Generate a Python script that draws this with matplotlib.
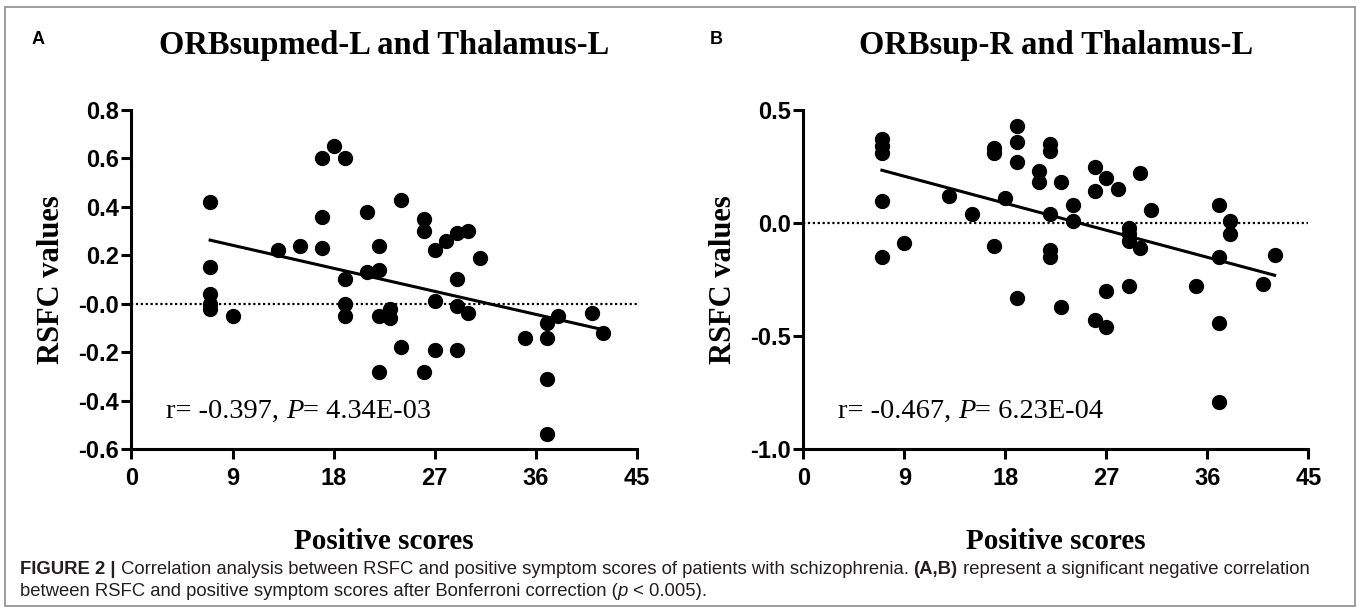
import numpy as np
import matplotlib
matplotlib.use("Agg")
import matplotlib.pyplot as plt
from matplotlib import font_manager
from matplotlib.offsetbox import TextArea, HPacker, AnchoredOffsetbox
from matplotlib.patches import Rectangle

# panel A: ORBsupmed-L and Thalamus-L
scores_a = [7, 7, 7, 7, 7, 9, 13, 15, 17, 17, 17, 18, 19, 19, 19, 19,
            21, 21, 22, 22, 22, 22, 23, 23, 24, 24, 26, 26, 26, 27, 27, 27,
            28, 29, 29, 29, 29, 30, 30, 31, 35, 37, 37, 37, 37, 38, 41, 42]
rsfc_a = [0.42, 0.15, 0.04, 0.00, -0.02, -0.05, 0.22, 0.24, 0.60, 0.36, 0.23,
          0.65, 0.60, 0.10, 0.00, -0.05, 0.38, 0.13, 0.24, 0.14, -0.05, -0.28,
          -0.02, -0.06, 0.43, -0.18, 0.35, 0.30, -0.28, 0.22, 0.01, -0.19,
          0.26, 0.29, 0.10, -0.01, -0.19, 0.30, -0.04, 0.19, -0.14, -0.08,
          -0.14, -0.31, -0.54, -0.05, -0.04, -0.12]

# panel B: ORBsup-R and Thalamus-L
scores_b = [7, 7, 7, 7, 7, 9, 13, 15, 17, 17, 17, 18, 19, 19, 19, 19, 21, 21,
            22, 22, 22, 22, 22, 23, 23, 24, 24, 26, 26, 26, 27, 27, 27, 28,
            29, 29, 29, 29, 30, 30, 31, 35, 37, 37, 37, 37, 38, 38, 41, 42]
rsfc_b = [0.37, 0.34, 0.31, 0.10, -0.15, -0.09, 0.12, 0.04, 0.33, 0.31, -0.10,
          0.11, 0.43, 0.36, 0.27, -0.33, 0.23, 0.18, 0.35, 0.32, 0.04, -0.12,
          -0.15, 0.18, -0.37, 0.08, 0.01, 0.25, 0.14, -0.43, 0.20, -0.30,
          -0.46, 0.15, -0.02, -0.05, -0.08, -0.28, 0.22, -0.11, 0.06, -0.28,
          0.08, -0.15, -0.44, -0.79, 0.01, -0.05, -0.27, -0.14]

titles = ["ORBsupmed-L and Thalamus-L", "ORBsup-R and Thalamus-L"]
panel_letters = ["A", "B"]
stats_r = ["-0.397", "-0.467"]
stats_p = ["4.34E-03", "6.23E-04"]
x_ticks = [0, 9, 18, 27, 36, 45]
y_ticks_a = [-0.6, -0.4, -0.2, 0.0, 0.2, 0.4, 0.6, 0.8]
y_labels_a = ["-0.6", "-0.4", "-0.2", "-0.0", "0.2", "0.4", "0.6", "0.8"]
y_ticks_b = [-1.0, -0.5, 0.0, 0.5]
y_labels_b = ["-1.0", "-0.5", "0.0", "0.5"]

SERIF = "Liberation Serif"
SANS = "Liberation Sans"
names = {f.name for f in font_manager.fontManager.ttflist}
NARROW = "Liberation Sans Narrow" if "Liberation Sans Narrow" in names else SANS


def draw_panel(ax, x, y, y_ticks, y_labels, title, r, p):
    x = np.array(x, dtype=float)
    y = np.array(y, dtype=float)
    ax.scatter(x, y, s=100, color="black", zorder=3, clip_on=False)

    # linear fit
    slope, inter = np.polyfit(x, y, 1)
    xs = np.array([x.min(), x.max()])
    ax.plot(xs, slope * xs + inter, color="black", lw=2.2, zorder=2)

    ax.axhline(0, color="black", lw=1.6, ls=(0, (1, 1.2)), zorder=1)

    ax.set_xlim(x_ticks[0], x_ticks[-1])
    ax.set_ylim(y_ticks[0], y_ticks[-1])
    ax.set_xticks(x_ticks)
    ax.set_xticklabels([str(t) for t in x_ticks])
    ax.set_yticks(y_ticks)
    ax.set_yticklabels(y_labels)
    for lab in ax.get_xticklabels() + ax.get_yticklabels():
        lab.set_fontfamily(SANS)
        lab.set_fontweight("bold")
        lab.set_fontsize(17)

    ax.spines["top"].set_visible(False)
    ax.spines["right"].set_visible(False)
    ax.spines["left"].set_linewidth(2.2)
    ax.spines["bottom"].set_linewidth(2.2)
    ax.tick_params(direction="out", length=7, width=2.2)
    ax.tick_params(axis="x", pad=6)
    ax.tick_params(axis="y", pad=2)

    ax.set_xlabel("Positive scores", fontfamily=SERIF, fontweight="bold",
                  fontsize=21)
    ax.xaxis.set_label_coords(0.5, -0.272)
    ax.xaxis.label.set_va("center")
    ax.set_ylabel("RSFC values", fontfamily=SERIF, fontweight="bold",
                  fontsize=22)
    ax.yaxis.set_label_coords(-0.158, 0.5)
    ax.yaxis.label.set_va("center")

    ax.text(0.5, 1.189, title, transform=ax.transAxes, ha="center",
            va="center", fontfamily=SERIF, fontweight="bold", fontsize=23.5)

    parts = [TextArea("r= " + r + ", ", textprops=dict(family=SERIF, size=20.5)),
             TextArea("P", textprops=dict(family=SERIF, size=20.5,
                                          style="italic")),
             TextArea("= " + p, textprops=dict(family=SERIF, size=20.5))]
    box = HPacker(children=parts, pad=0, sep=0, align="baseline")
    ab = AnchoredOffsetbox(loc="center left", child=box, pad=0, frameon=False,
                           bbox_to_anchor=(0.068, 0.112),
                           bbox_transform=ax.transAxes, borderpad=0)
    ax.add_artist(ab)


fig = plt.figure(figsize=(13.57, 6.08), dpi=100)

ax_a = fig.add_axes([0.0969, 0.2615, 0.3725, 0.5576])
ax_b = fig.add_axes([0.5920, 0.2610, 0.3721, 0.5580])

draw_panel(ax_a, scores_a, rsfc_a, y_ticks_a, y_labels_a, titles[0],
           stats_r[0], stats_p[0])
draw_panel(ax_b, scores_b, rsfc_b, y_ticks_b, y_labels_b, titles[1],
           stats_r[1], stats_p[1])

fig.text(38 / 1357, 1 - 40 / 608, panel_letters[0], ha="center", va="center",
         fontfamily=SANS, fontweight="bold", fontsize=13)
fig.text(716 / 1357, 1 - 40 / 608, panel_letters[1], ha="center", va="center",
         fontfamily=SANS, fontweight="bold", fontsize=13)

# caption, mixed weights on one line
cap = dict(family=NARROW, size=13.3, color="#231f20")
line1 = HPacker(children=[
    TextArea("FIGURE 2 | ", textprops=dict(cap, weight="bold")),
    TextArea("Correlation analysis between RSFC and positive symptom scores "
             "of patients with schizophrenia. ", textprops=cap),
    TextArea("(A,B)", textprops=dict(cap, weight="bold")),
    TextArea(" represent a significant negative correlation", textprops=cap),
], pad=0, sep=0, align="baseline")
line2 = HPacker(children=[
    TextArea("between RSFC and positive symptom scores after Bonferroni "
             "correction (", textprops=cap),
    TextArea("p", textprops=dict(cap, style="italic")),
    TextArea(" < 0.005).", textprops=cap),
], pad=0, sep=0, align="baseline")
for line, yy in [(line1, 570), (line2, 592)]:
    fig.add_artist(AnchoredOffsetbox(loc="center left", child=line, pad=0,
                                     frameon=False,
                                     bbox_to_anchor=(20 / 1357, 1 - yy / 608),
                                     bbox_transform=fig.transFigure,
                                     borderpad=0))

# grey frame around the figure
fig.add_artist(Rectangle((5 / 1357, 2 / 608), 1350 / 1357, 599 / 608,
                         transform=fig.transFigure, fill=False,
                         edgecolor="#8c8c8c", lw=1.2))

fig.savefig("out.png", dpi=100)
